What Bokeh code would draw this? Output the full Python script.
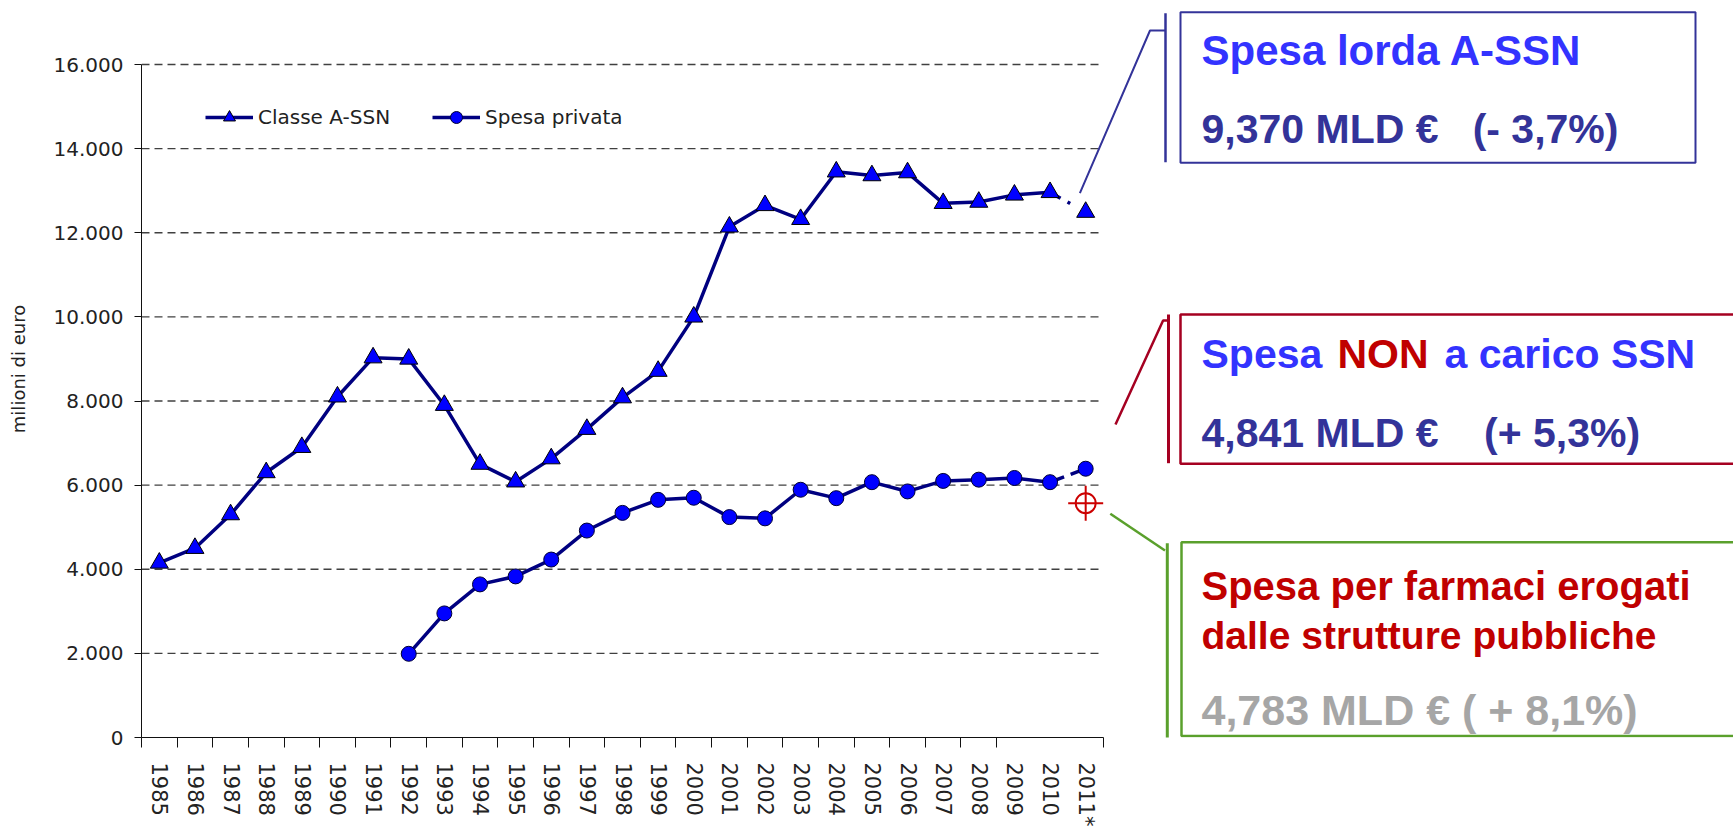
import numpy as np
from bokeh.plotting import figure
from bokeh.models import Range1d, FixedTicker, Legend, LegendItem
from bokeh.core.properties import value
from bokeh.embed import file_html
from bokeh.resources import INLINE

# ---------------- data ----------------
years = ["1985", "1986", "1987", "1988", "1989", "1990", "1991", "1992", "1993",
         "1994", "1995", "1996", "1997", "1998", "1999", "2000", "2001", "2002",
         "2003", "2004", "2005", "2006", "2007", "2008", "2009", "2010", "2011*"]

classe_a_ssn = [4150, 4500, 5300, 6300, 6900, 8100, 9030, 9000, 7900,
                6500, 6080, 6630, 7330, 8080, 8710, 10000, 12140, 12650,
                12320, 13450, 13360, 13430, 12700, 12730, 12900, 12960, 12490]

spesa_privata = [np.nan, np.nan, np.nan, np.nan, np.nan, np.nan, np.nan, 1990, 2950,
                 3640, 3830, 4230, 4920, 5340, 5650, 5700, 5240, 5210,
                 5890, 5690, 6070, 5850, 6100, 6130, 6170, 6070, 6390]

farmaci_strutture_2011 = [5570]

y_ticks = [0, 2000, 4000, 6000, 8000, 10000, 12000, 14000, 16000]

legend_labels = ["Classe A-SSN", "Spesa privata"]
y_title = "milioni di euro"

box1_lines = ["Spesa lorda A-SSN", "9,370 MLD €\u00a0\u00a0 (- 3,7%)"]
box2_title = ["Spesa ", "NON", "a carico SSN"]
box2_value = "4,841 MLD €\u00a0\u00a0\u00a0 (+ 5,3%)"
box3_lines = ["Spesa per farmaci erogati", "dalle strutture pubbliche", "4,783 MLD € ( + 8,1%)"]

# ---------------- layout (page pixels) ----------------
W, H = 1733, 832
CHART_LEFT, CHART_RIGHT = 141, 1103      # category area
CHART_TOP, CHART_BOTTOM = 64, 737        # 16000 ... 0
n = len(years)
xc = list(range(1, n + 1))
kx = (CHART_RIGHT - CHART_LEFT) / n
ky = (CHART_BOTTOM - CHART_TOP) / y_ticks[-1]
frame_w = W - CHART_LEFT
x_end = 0.5 + frame_w / kx
y_end = CHART_BOTTOM / ky

p = figure(width=W, height=H, output_backend="svg", toolbar_location=None,
           x_range=Range1d(0.5, x_end), y_range=Range1d(0, y_end),
           min_border_left=CHART_LEFT, min_border_right=0,
           min_border_top=0, min_border_bottom=H - CHART_BOTTOM)
p.outline_line_color = None
p.background_fill_color = "white"
p.border_fill_color = "white"
p.xgrid.visible = False
p.ygrid.visible = False

# page-pixel ranges for the callout boxes on the right
p.extra_x_ranges = {"page": Range1d(CHART_LEFT, W)}
p.extra_y_ranges = {"page": Range1d(CHART_BOTTOM, 0)}

# ---------------- axes ----------------
boundaries = [i + 0.5 for i in range(n - 1)] + [n + 0.5]
del boundaries[-2]  # no tick between 2010 and 2011*
xa = p.xaxis[0]
xa.ticker = FixedTicker(ticks=xc, minor_ticks=boundaries)
xa.major_label_overrides = {x: y for x, y in zip(xc, years)}
xa.bounds = (0.5, n + 0.5)
xa.major_label_orientation = "vertical"
xa.major_tick_out = 0
xa.major_tick_in = 0
xa.minor_tick_out = 10
xa.minor_tick_in = 0
xa.minor_tick_line_color = "#111111"
xa.axis_line_color = "#111111"
xa.major_label_standoff = 15
xa.major_label_text_font = "DejaVu Sans"
xa.major_label_text_font_size = "21px"
xa.major_label_text_color = "#222222"

ya = p.yaxis[0]
ya.ticker = FixedTicker(ticks=y_ticks)
ya.major_label_overrides = {t: f"{t:,}".replace(",", ".") for t in y_ticks}
ya.bounds = (0, y_ticks[-1])
ya.major_tick_out = 7
ya.major_tick_in = 0
ya.minor_tick_line_color = None
ya.axis_line_color = "#111111"
ya.major_tick_line_color = "#111111"
ya.major_label_standoff = 11
ya.major_label_text_font = "DejaVu Sans"
ya.major_label_text_font_size = "20px"
ya.major_label_text_color = "#222222"
ya.axis_label = y_title
ya.axis_label_text_font = "DejaVu Sans"
ya.axis_label_text_font_style = "normal"
ya.axis_label_text_font_size = "18px"
ya.axis_label_text_color = "#222222"
ya.axis_label_standoff = 22

# dashed horizontal grid lines (only over the category area)
grid_vals = y_ticks[1:]
p.segment(x0=[0.5] * len(grid_vals), x1=[n + 0.5] * len(grid_vals),
          y0=grid_vals, y1=grid_vals, line_color="#404040", line_width=1.3,
          line_dash="8 5")

# ---------------- series ----------------
NAVY = "#000080"
l1 = p.line(xc[:-1], classe_a_ssn[:-1], line_color=NAVY, line_width=3.5)
p.line(xc[-2:], classe_a_ssn[-2:], line_color=NAVY, line_width=3.5, line_dash="12 8 3 40")
s1 = p.scatter(xc, classe_a_ssn, marker="triangle", size=18, fill_color="#0000FF",
               line_color="black", line_width=1)

l2 = p.line(xc[:-1], spesa_privata[:-1], line_color=NAVY, line_width=3.5)
p.line(xc[-2:], spesa_privata[-2:], line_color=NAVY, line_width=3.5, line_dash="15 7 40")
s2 = p.scatter(xc, spesa_privata, marker="circle", size=15, fill_color="#0000FF",
               line_color="#000033", line_width=1)

# red target marker (2011 public-structures expenditure)
p.scatter([xc[-1]], farmaci_strutture_2011, marker="circle", size=20, fill_color=None,
          line_color="#CC0000", line_width=2)
p.scatter([xc[-1]], farmaci_strutture_2011, marker="cross", size=35,
          line_color="#CC0000", line_width=2)

legend = Legend(items=[LegendItem(label=legend_labels[0], renderers=[l1, s1]),
                       LegendItem(label=legend_labels[1], renderers=[l2, s2])],
                location=(64, 605), orientation="horizontal",
                glyph_width=48, glyph_height=30, label_standoff=5, spacing=42,
                padding=0, margin=0, border_line_color=None,
                background_fill_alpha=0,
                label_text_font="DejaVu Sans", label_text_font_size="20px",
                label_text_color="#222222")
p.add_layout(legend)

# ---------------- callouts (page pixel coordinates) ----------------
pg = dict(x_range_name="page", y_range_name="page")

p.quad(left=[1180, 1180, 1181], right=[1695, 1760, 1760],
       top=[11.7, 314, 541.7], bottom=[162.3, 463.3, 735.5],
       fill_color=None, line_color=["#333399", "#A50021", "#5AA02C"],
       line_width=[2, 2.5, 2.5], **pg)

p.multi_line(xs=[[1079.4, 1149.5, 1165], [1165, 1165],
                 [1115, 1162.6, 1168], [1168, 1168],
                 [1109.8, 1164.5], [1166.8, 1166.8]],
             ys=[[192.7, 30, 30], [12.7, 161.7],
                 [424, 320, 320], [314, 462.7],
                 [513.3, 550], [542.7, 741.7]],
             line_color=["#333399", "#333399", "#A50021", "#A50021", "#5AA02C", "#5AA02C"],
             line_width=[2, 2.5, 2.5, 3, 2.5, 3], **pg)

tx = [1201, 1201, 1201, 1337, 1444, 1201, 1201, 1201, 1201]
ty = [49.7, 128, 353, 353, 353, 432, 585, 635, 709]
tt = [box1_lines[0], box1_lines[1], box2_title[0], box2_title[1], box2_title[2],
      box2_value, box3_lines[0], box3_lines[1], box3_lines[2]]
tc = ["#3333FF", "#333399", "#3333FF", "#C00000", "#3333FF", "#333399",
      "#C00000", "#C00000", "#A6A6A6"]
ts = ["42px", "41px", "41px", "41px", "41px", "41px", "40px", "39px", "43px"]
p.text(x=tx, y=ty, text=tt, text_color=tc, text_font=value("Liberation Sans"),
       text_font_style="bold", text_font_size=ts, text_baseline="alphabetic",
       text_align="left", **pg)

open("out.html", "w").write(file_html(p, INLINE))
